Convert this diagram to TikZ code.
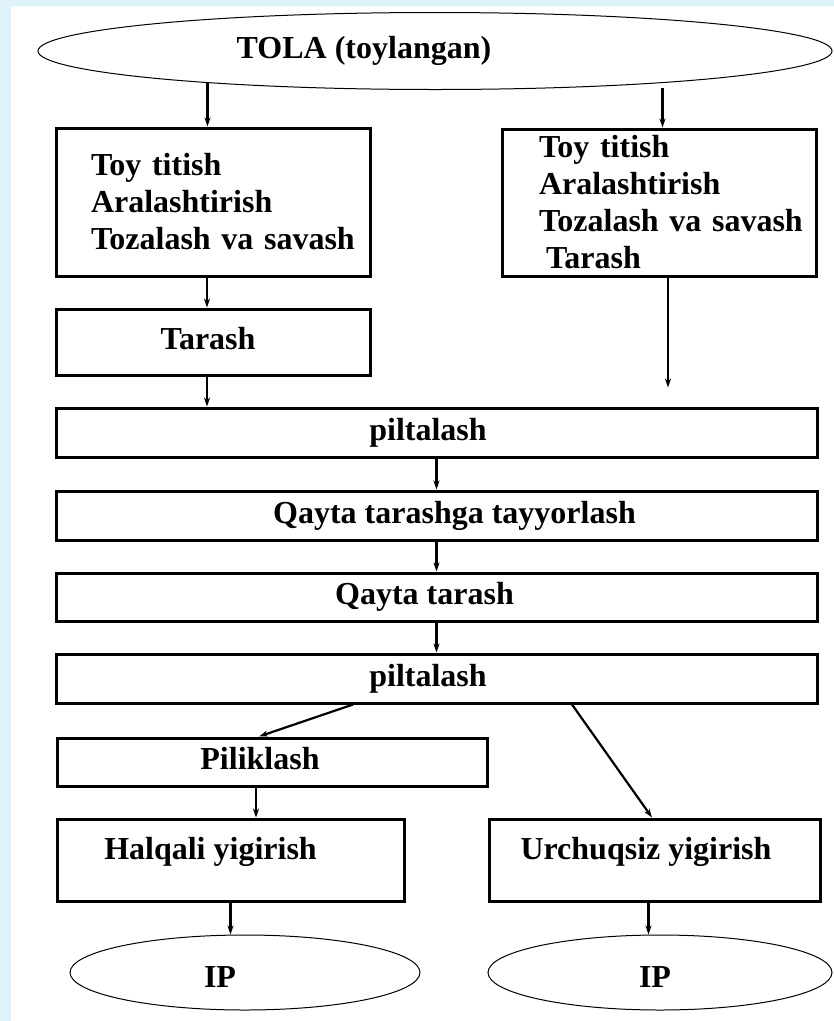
\documentclass[tikz,border=0pt]{standalone}
\usepackage{fontspec}
\setmainfont{Liberation Serif}
\usetikzlibrary{arrows.meta,shapes.geometric}
\definecolor{paleblue}{RGB}{221,243,249}

\begin{document}
\begin{tikzpicture}[x=1pt,y=-1pt,->,>={Stealth[length=9pt,width=6pt]},line width=2.2pt,
  stage node/.style={rectangle,draw,line width=3pt,inner sep=0pt,font=\bfseries\fontsize{32}{37}\selectfont,text height=22pt,text depth=7pt},
  list node/.style={rectangle,draw,line width=3pt,inner sep=0pt,align=left,font=\bfseries\fontsize{32}{37}\selectfont},
  end node/.style={ellipse,draw,line width=1pt,inner sep=0pt,font=\bfseries\fontsize{32}{37}\selectfont,text height=22pt,text depth=7pt}]
  \useasboundingbox (0,0) rectangle (834,1021);
  \fill[paleblue,-] (0,0) rectangle (834,1021);
  \fill[white,-] (11,6) rectangle (834,1021);

  \node[end node,minimum width=794pt,minimum height=77pt] (tola) at (435,51) {TOLA (toylangan)\hspace*{142pt}};
  \node[list node,minimum width=314pt,minimum height=148pt,text width=244pt,inner xsep=35pt] (mix1) at (213,202) {Toy titish\\Aralashtirish\\\mbox{Tozalash va savash}};
  \node[list node,minimum width=314pt,minimum height=147pt,text width=240pt,inner xsep=37pt] (mix2) at (659,202.5) {Toy titish\\Aralashtirish\\\mbox{Tozalash va savash}\\\hspace*{7pt}Tarash};
  \node[stage node,minimum width=314pt,minimum height=66pt] (card1) at (213,342) {Tarash\hspace*{10pt}};
  \node[stage node,minimum width=761pt,minimum height=49pt] (sliv1) at (436.5,432.5) {piltalash\hspace*{17pt}};
  \node[stage node,minimum width=761pt,minimum height=49pt] (prep) at (436.5,515.5) {\hspace*{36pt}Qayta tarashga tayyorlash};
  \node[stage node,minimum width=761pt,minimum height=48pt] (comb) at (436.5,597) {Qayta tarash\hspace*{24pt}};
  \node[stage node,minimum width=761pt,minimum height=49pt] (sliv2) at (436.5,678.5) {piltalash\hspace*{17pt}};
  \node[stage node,minimum width=430pt,minimum height=48pt] (rove) at (272,762) {Piliklash\hspace*{24pt}};
  \node[stage node,minimum width=347pt,minimum height=82pt,text depth=24pt] (ring) at (230.5,860) {Halqali yigirish\hspace*{40pt}};
  \node[stage node,minimum width=331pt,minimum height=82pt,text depth=24pt] (rotor) at (654.5,860) {Urchuqsiz yigirish\hspace*{17pt}};
  \node[end node,minimum width=350pt,minimum height=75pt,text height=29pt,text depth=0pt] (ip1) at (245,972.5) {IP\hspace*{50pt}};
  \node[end node,minimum width=344pt,minimum height=75pt,text height=29pt,text depth=0pt] (ip2) at (660,972.5) {IP\hspace*{10pt}};

\path
  (tola.188) edge (tola.188 |- mix1.north)
  (tola.352) edge[shorten <=5pt] (tola.352 |- mix2.north)
  ([xshift=-6pt]mix1.south) edge ([xshift=-6pt]card1.north)
  ([xshift=-6pt]card1.south) edge ([xshift=-6pt]card1.south |- sliv1.north)
  ([xshift=9pt]mix2.south) edge[shorten >=19pt] ([xshift=9pt]mix2.south |- sliv1.north)
  (sliv1) edge (prep)
  (prep) edge (comb)
  (comb) edge (sliv2)
  ([xshift=-83.5pt]sliv2.south) edge ([xshift=-13pt]rove.north)
  ([xshift=135.5pt]sliv2.south) edge ([xshift=-2.5pt]rotor.north)
  ([xshift=-16pt]rove.south) edge ([xshift=-16pt]rove.south |- ring.north)
  (ring.south) edge (ring.south |- ip1.north)
  ([xshift=-6pt]rotor.south) edge ([xshift=-6pt]rotor.south |- ip2.north);
\end{tikzpicture}
\end{document}
